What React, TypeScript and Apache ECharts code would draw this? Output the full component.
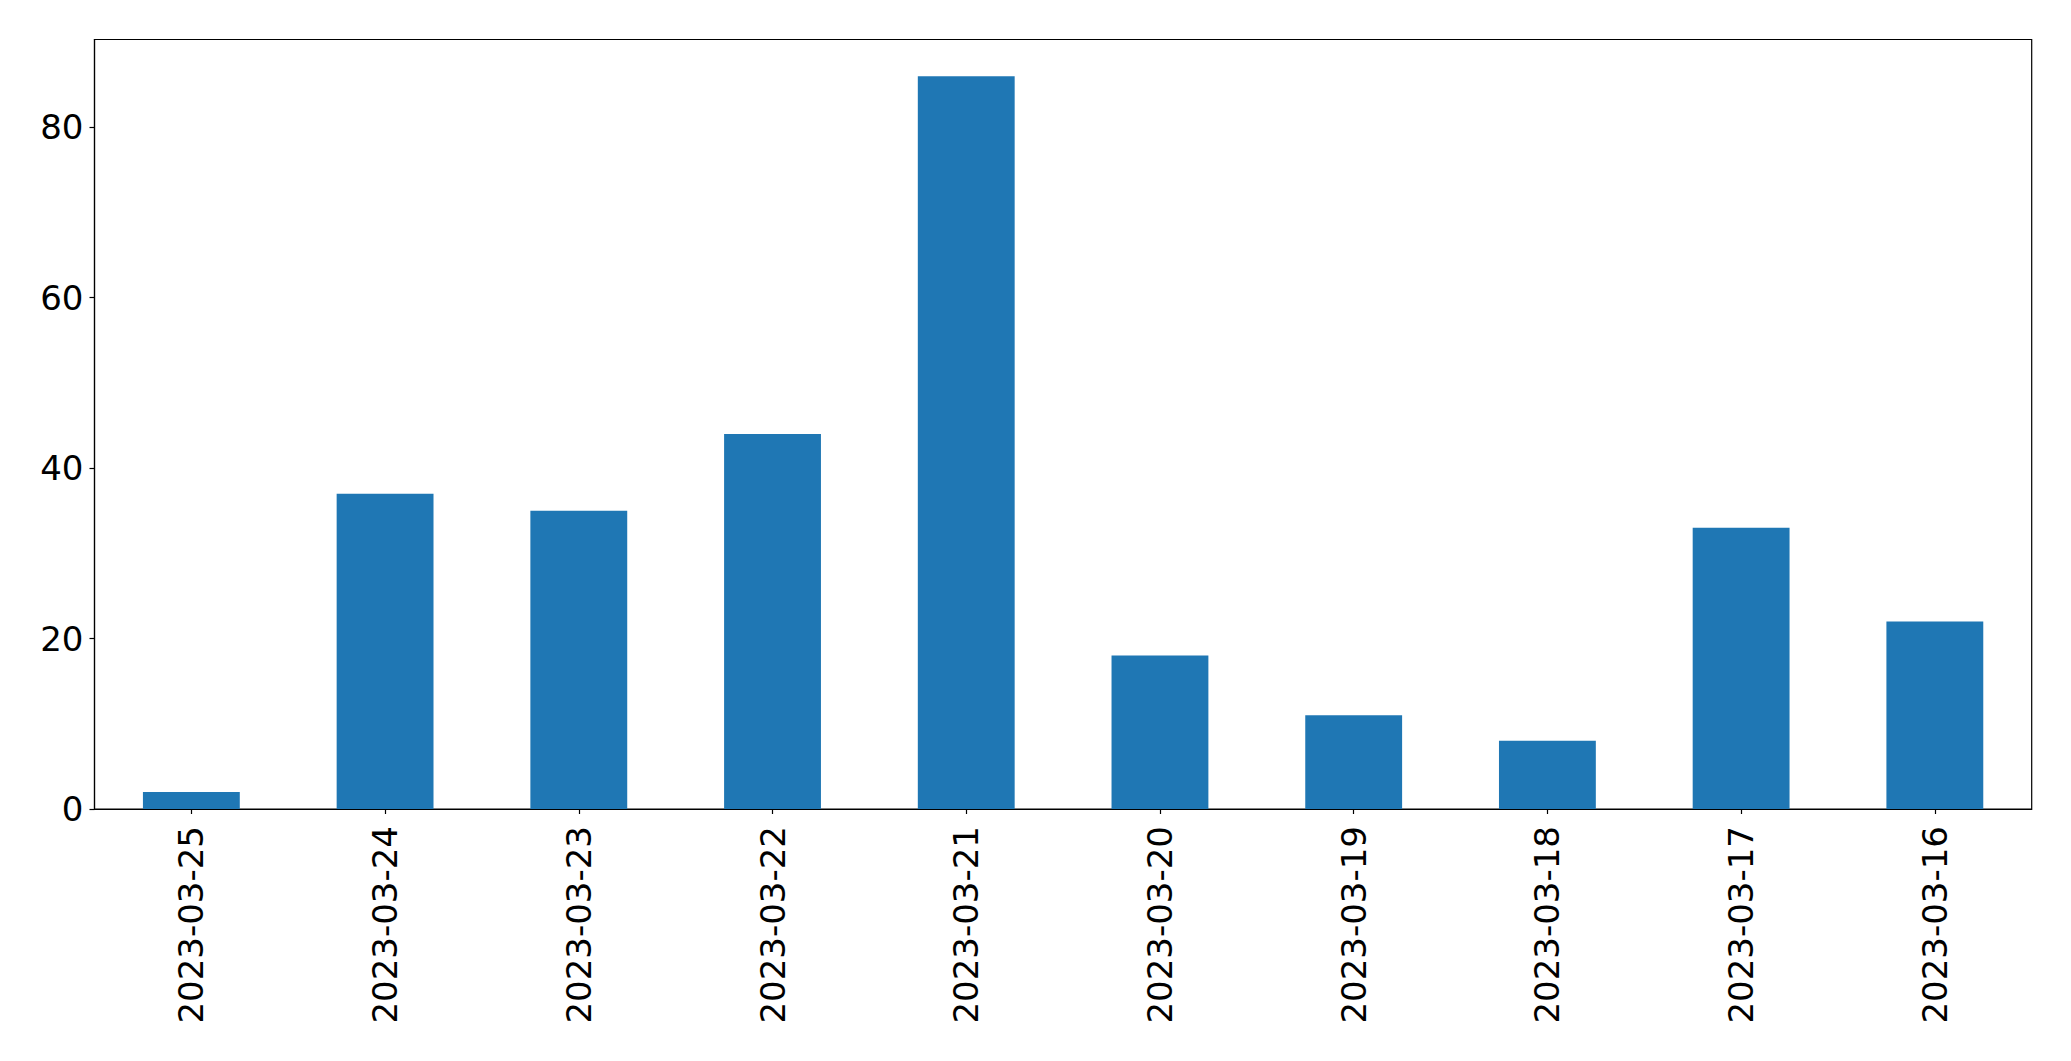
import React, { useEffect, useRef } from "react";
import * as echarts from "echarts";

const categories = [
  "2023-03-25",
  "2023-03-24",
  "2023-03-23",
  "2023-03-22",
  "2023-03-21",
  "2023-03-20",
  "2023-03-19",
  "2023-03-18",
  "2023-03-17",
  "2023-03-16",
];
const values = [2, 37, 35, 44, 86, 18, 11, 8, 33, 22];
const yTicks = [0, 20, 40, 60, 80];
const yMax = 90.3;

export default function App() {
  const ref = useRef<HTMLDivElement>(null);
  useEffect(() => {
    document.body.style.margin = "0";
    const chart = echarts.init(ref.current!, null, { renderer: "svg" });
    chart.setOption({
      animation: false,
      backgroundColor: "#ffffff",
      textStyle: { fontFamily: "DejaVu Sans" },
      grid: {
        left: 94.5,
        top: 39.5,
        right: 39.3,
        bottom: 252,
        show: true,
        borderColor: "#000000",
        borderWidth: 1.2,
        backgroundColor: "transparent",
      },
      xAxis: {
        type: "category",
        data: categories,
        boundaryGap: true,
        axisLine: { show: true, lineStyle: { color: "#000000", width: 1.2 } },
        axisTick: { show: true, alignWithLabel: true, length: 5, lineStyle: { color: "#000000", width: 1.2 } },
        axisLabel: {
          rotate: 90,
          margin: 17,
          fontSize: 34,
          color: "#000000",
          fontFamily: "DejaVu Sans",
          interval: 0,
        },
        splitLine: { show: false },
      },
      yAxis: {
        type: "value",
        min: 0,
        max: yMax,
        axisLine: { show: true, lineStyle: { color: "#000000", width: 1.2 } },
        axisTick: { show: true, length: 5, customValues: yTicks, lineStyle: { color: "#000000", width: 1.2 } },
        axisLabel: {
          customValues: yTicks,
          margin: 11,
          fontSize: 34,
          color: "#000000",
          fontFamily: "DejaVu Sans",
        },
        splitLine: { show: false },
      },
      series: [
        {
          type: "bar",
          data: values,
          barWidth: "50%",
          itemStyle: { color: "#1f77b4" },
        },
      ],
    });
    return () => chart.dispose();
  }, []);
  return <div ref={ref} style={{ width: 2071, height: 1061 }} />;
}
